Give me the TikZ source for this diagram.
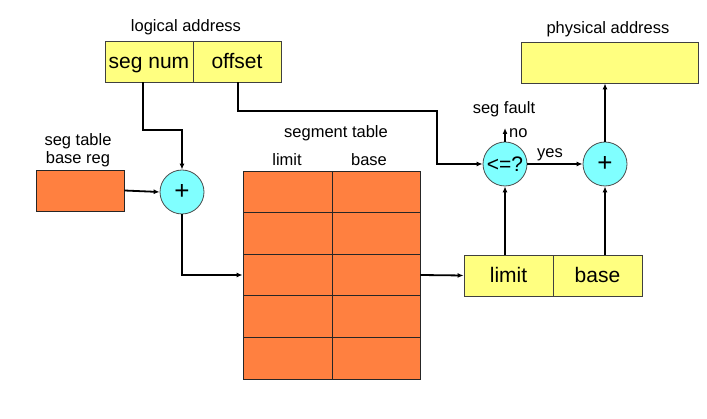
\documentclass[tikz,border=0pt]{standalone}
\usepackage{fontspec}
\setmainfont{Liberation Sans}
\usetikzlibrary{arrows.meta}
\definecolor{boxyellow}{HTML}{FFFF80}
\definecolor{tblorange}{HTML}{FF8040}
\definecolor{opcyan}{HTML}{80FFFF}
\tikzset{
  ybox/.style={draw=black!75,line width=0.8pt,fill=boxyellow,minimum height=41pt,inner sep=0pt,text height=15pt,text depth=0pt,font=\fontsize{21}{24}\selectfont},
  obox/.style={draw=black!85,line width=0.8pt,fill=tblorange,minimum height=41.6pt,inner sep=0pt},
  opcirc/.style={circle,draw=black!70,line width=0.8pt,fill=opcyan,minimum size=44pt,inner sep=0pt,font=\fontsize{21}{24}\selectfont},
  plusf/.style={font=\fontsize{26}{28}\selectfont},
  lbl/.style={inner sep=0pt,font=\fontsize{16.5}{19}\selectfont},
  arr/.style={line width=1.8pt,-{Latex[length=6pt,width=5pt]}},
}
\begin{document}
\begin{tikzpicture}[x=1pt,y=-1pt]
\useasboundingbox (0,0) rectangle (707,419);
% logical address
\node[ybox,minimum width=88pt] (la1) at (149,61.5) {seg num};
\node[ybox,minimum width=88pt] (la2) at (237,61.5) {offset};
\node[lbl] (lal) at (186,27) {logical address};
% physical address
\node[ybox,minimum width=177pt] (pa) at (609.5,62.5) {};
\node[lbl] (pal) at (608,29) {physical address};
% seg table base reg
\node[obox,minimum width=88pt,minimum height=41pt] (stbr) at (80,190.5) {};
\node[lbl,align=center] (stbrl) at (78,150) {seg table\\[-1pt]base reg};
% adders and compare
\node[opcirc,plusf] (p1) at (182,192) {+};
\node[opcirc] (cmp) at (505,164) {<=?};
\node[opcirc,plusf] (p2) at (605,164) {+};
% segment table
\foreach \r in {1,...,5}{
  \node[obox,minimum width=89pt] (t\r1) at (287.5,{171+(\r-0.5)*41.6}) {};
  \node[obox,minimum width=88pt] (t\r2) at (376,{171+(\r-0.5)*41.6}) {};
}
\node[lbl] (stl) at (336,133) {segment table};
\node[lbl] (limh) at (287,160) {limit};
\node[lbl] (baseh) at (369,160) {base};
% limit/base entry
\node[ybox,minimum width=89pt] (lb1) at (508.5,275.5) {limit};
\node[ybox,minimum width=89pt] (lb2) at (597.5,275.5) {base};
% labels near compare
\node[lbl] (sf) at (504,109) {seg fault};
\coordinate (sfend) at (505,128);
\node[lbl,anchor=west] (no) at (509,133) {no};
\node[lbl] (yes) at (550,155) {yes};
\coordinate (offbend) at (437,111);
% connectors
\draw[arr] ([xshift=-6pt]la1.south) -- ++(0,48) -| (p1.north);
\draw[arr] ([xshift=1pt]la2.south) |- (offbend) |- (cmp.west);
\draw[arr] (stbr.east) -- (p1.west);
\draw[arr] (p1.south) |- (t31.west);
\draw[arr] (t32.east) -- (lb1.west);
\draw[arr] (cmp |- lb1.north) -- (cmp.south);
\draw[arr] (p2 |- lb2.north) -- (p2.south);
\draw[arr] (cmp.east) -- (p2.west);
\draw[arr] (cmp.north) -- (sfend);
\draw[arr] (p2.north) -- (p2 |- pa.south);
\end{tikzpicture}
\end{document}
